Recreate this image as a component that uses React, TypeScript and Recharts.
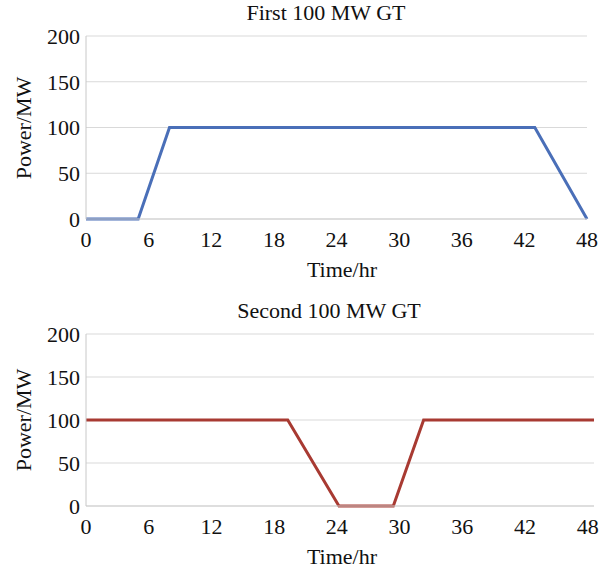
import { CartesianGrid, Line, LineChart, XAxis, YAxis } from "recharts";

// First gas turbine: hours and power (MW)
const firstHours = [0, 5, 8, 43, 48];
const firstPower = [0, 0, 100, 100, 0];

// Second gas turbine
const secondHours = [0, 19.3, 24.2, 29.4, 32.3, 48.6];
const secondPower = [100, 100, 0, 0, 100, 100];

const xTicks = [0, 6, 12, 18, 24, 30, 36, 42, 48];
const yTicks = [0, 50, 100, 150, 200];

const FONT = '"Liberation Serif", "Times New Roman", serif';
const tickStyle = { fill: "#111", fontSize: 22, fontFamily: FONT };

function Panel({
  title,
  hours,
  power,
  color,
  top,
  marginTop,
  marginRight,
  xMax,
  titleX,
}: {
  title: string;
  hours: number[];
  power: number[];
  color: string;
  top: number;
  marginTop: number;
  marginRight: number;
  xMax: number;
  titleX: number;
}) {
  const data = hours.map((h, i) => ({ hour: h, power: power[i] }));
  const plotBottom = top + 286 - 37 - 30;
  return (
    <>
      <div
        style={{
          position: "absolute",
          left: titleX - 150,
          width: 300,
          top: top + marginTop - 36,
          textAlign: "center",
          fontFamily: FONT,
          fontSize: 22,
          color: "#111",
        }}
      >
        {title}
      </div>
      <div style={{ position: "absolute", left: 0, top }}>
        <LineChart
          width={600}
          height={286}
          data={data}
          margin={{ top: marginTop, right: marginRight, bottom: 37, left: 26 }}
        >
          <CartesianGrid vertical={false} stroke="#d9d9d9" />
          <XAxis
            dataKey="hour"
            type="number"
            domain={[0, xMax]}
            ticks={xTicks}
            interval={0}
            tick={tickStyle}
            tickLine={false}
            tickSize={0}
            tickMargin={12}
            axisLine={{ stroke: "#d0d0d0" }}
            height={30}
          />
          <YAxis
            type="number"
            domain={[0, 200]}
            ticks={yTicks}
            interval={0}
            tick={tickStyle}
            tickLine={false}
            tickSize={0}
            tickMargin={6}
            axisLine={{ stroke: "#c8c8c8" }}
            width={60}
          />
          <Line
            dataKey="power"
            stroke={color}
            strokeWidth={3}
            dot={false}
            activeDot={false}
            isAnimationActive={false}
          />
        </LineChart>
      </div>
      <div
        style={{
          position: "absolute",
          left: 342 - 60,
          width: 120,
          top: plotBottom + 38,
          textAlign: "center",
          fontFamily: FONT,
          fontSize: 22,
          color: "#111",
        }}
      >
        Time/hr
      </div>
      <div
        style={{
          position: "absolute",
          left: 24 - 60,
          width: 120,
          top: top + marginTop + (plotBottom - top - marginTop) / 2 - 13,
          textAlign: "center",
          fontFamily: FONT,
          fontSize: 22,
          color: "#111",
          transform: "rotate(-90deg)",
        }}
      >
        Power/MW
      </div>
    </>
  );
}

export default function App() {
  return (
    <div style={{ position: "relative", width: 600, height: 572, background: "#fff" }}>
      <style>{`body{margin:0}`}</style>
      <Panel
        title="First 100 MW GT"
        hours={firstHours}
        power={firstPower}
        color="#4a6fb8"
        top={0}
        marginTop={36}
        marginRight={13}
        xMax={48}
        titleX={326}
      />
      <Panel
        title="Second 100 MW GT"
        hours={secondHours}
        power={secondPower}
        color="#a83a32"
        top={287}
        marginTop={47}
        marginRight={6}
        xMax={48.6}
        titleX={329}
      />
    </div>
  );
}
